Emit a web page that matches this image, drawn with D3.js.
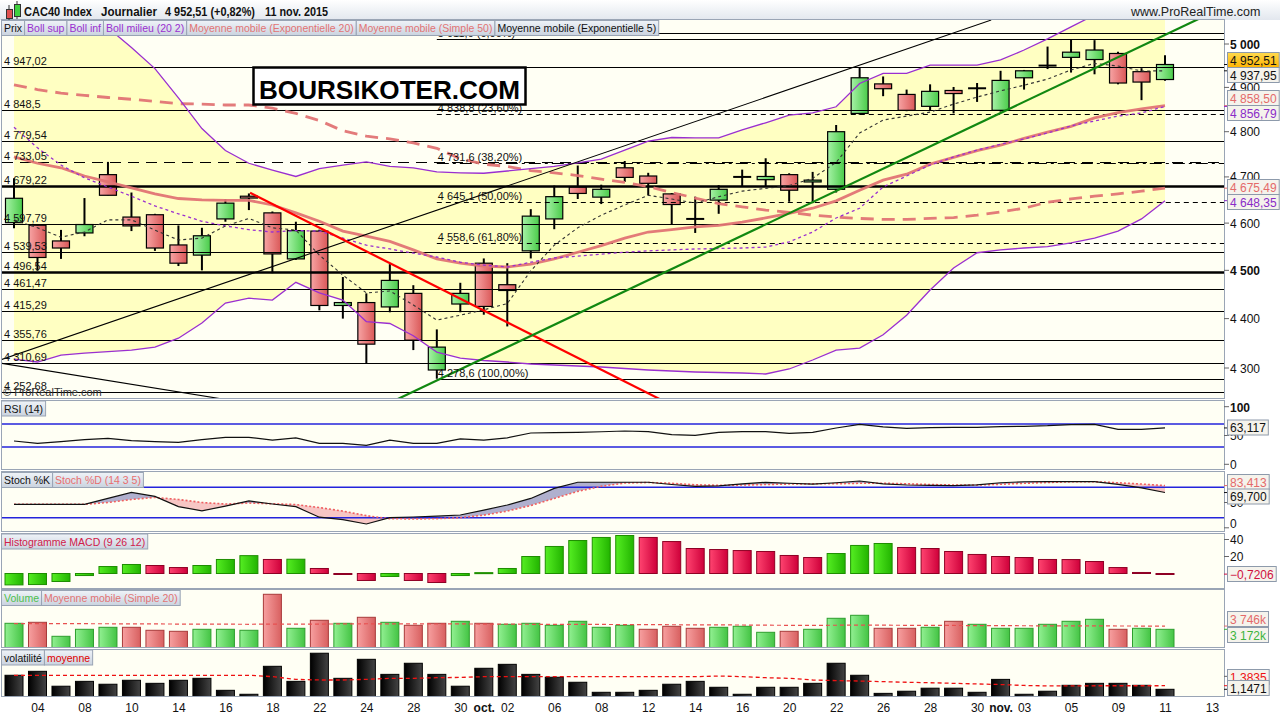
<!DOCTYPE html>
<html><head><meta charset="utf-8">
<script src="https://cdn.jsdelivr.net/npm/d3@7"></script>
<style>body{margin:0;background:#fff}svg{display:block;font-family:"Liberation Sans",Arial,sans-serif}</style>
</head><body><svg id="c" width="1280" height="720"></svg>
<script>
// ---------------- DATA ----------------
const dates = ["2015-09-03","2015-09-04","2015-09-07","2015-09-08","2015-09-09","2015-09-10","2015-09-11","2015-09-14","2015-09-15","2015-09-16","2015-09-17","2015-09-18","2015-09-21","2015-09-22","2015-09-23","2015-09-24","2015-09-25","2015-09-28","2015-09-29","2015-09-30","2015-10-01","2015-10-02","2015-10-05","2015-10-06","2015-10-07","2015-10-08","2015-10-09","2015-10-12","2015-10-13","2015-10-14","2015-10-15","2015-10-16","2015-10-19","2015-10-20","2015-10-21","2015-10-22","2015-10-23","2015-10-26","2015-10-27","2015-10-28","2015-10-29","2015-10-30","2015-11-02","2015-11-03","2015-11-04","2015-11-05","2015-11-06","2015-11-09","2015-11-10","2015-11-11"];
const open  = [4601,4595.5,4562,4579,4705,4613,4618,4553.5,4532,4609,4658,4622,4524,4583,4427,4433,4424,4452,4296,4430,4515,4470,4541,4609,4678,4656,4720,4702,4663,4609,4649.5,4700,4694,4705,4689,4673,4841,4908,4884,4857,4893,4898,4848,4922,4950,4969,4964,4978,4936,4918];
const high  = [4697,4597,4585.5,4654,4733,4666,4620,4595,4590,4652,4664,4625,4603,4586,4486,4452,4513,4469,4378,4474,4525,4515,4630,4681,4725,4683,4735,4709,4665,4657,4682,4716,4741,4708,4711,4815,4946,4925,4895,4907,4901,4910,4938,4940,4994,5011.6,5009,4982,4944,4974];
const low   = [4589,4499,4524,4572,4660,4583,4541,4509,4500,4603,4628,4494,4522,4417,4400,4310,4413,4336,4278.6,4413,4408,4384,4525,4587,4652,4641,4689,4660,4597,4579,4620,4679,4679,4646,4643,4666,4838,4880,4846,4848,4841,4867,4845,4895,4942,4934,4930,4907,4871,4915];
const close = [4653.5,4527,4547,4597,4660,4594,4547,4515,4573,4643,4654,4534.5,4584,4427,4433,4348,4479,4356,4342,4452,4425,4458,4615,4657,4664,4673,4699,4686,4640,4609,4673,4700,4701,4671,4693,4800,4922,4897,4848,4891,4886,4898,4916,4938,4950,4981,4986,4910,4912.2,4952.51];

const bollSup = [5302,5216,5126,5066,5038,4992,4943,4876,4807,4758,4730,4715,4701,4718,4726,4733,4723,4720,4711,4709,4708,4713,4718,4723,4731,4739,4759,4779,4787,4786,4786,4804,4820,4837,4842,4856,4909,4932,4932,4951,4951,4951,4963,4986,5012,5040,5068,5087,5075,5065];
const bollInf = [4318,4312,4326,4330,4333,4336,4342,4360,4391,4432,4442,4438,4475,4453,4438,4394,4390,4365,4332,4320,4315,4312,4308,4306,4304,4302,4299,4296,4294,4292,4291,4290,4288,4298,4316,4336,4340,4367,4407,4459,4505,4537,4543,4547,4550,4558,4568,4583,4609,4648.35];
const bollMid = [4810,4764,4726,4698,4678,4658,4637,4620,4604,4594,4586,4581,4584,4583,4568,4553,4545,4536,4528,4517,4511,4507,4517,4526,4530,4534,4538,4541,4543,4545,4546,4547,4549,4560,4581,4611,4632,4678,4702,4726,4744,4759,4772,4784,4797,4813,4824,4835,4842,4856.79];
const ema20 = [4744,4730,4720,4702,4689,4676,4663,4653,4650,4649,4649,4639,4622,4604,4583,4572,4561,4543,4524,4515,4509,4507,4513,4524,4538,4552,4568,4581,4586,4592,4595,4602,4611,4621,4632,4648,4671,4693,4706,4728,4743,4758,4770,4785,4799,4812,4831,4843,4851,4858.5];
const sma50 = [4906,4895,4887,4882,4877,4873,4868,4863,4862,4860,4860,4853,4841,4825,4802,4790,4784,4775,4763,4740,4728,4723,4714,4709,4703,4695,4688,4679,4666,4654,4642,4635,4628,4623,4617,4613,4610,4608,4608,4610,4612,4617,4624,4632,4645,4652,4658,4663,4669,4675.49];
const ema5  = [4607,4590,4570,4581,4607,4607,4585,4564,4568,4594,4610,4590,4585,4532,4490,4453,4457,4428,4397,4407,4418,4431,4499,4553,4590,4617,4639,4660,4652,4643,4657,4669,4675,4681,4697,4732,4797,4826,4835,4844,4862,4878,4892,4905,4919,4940,4955,4949,4937.5,4937.95];

const rsi    = [40.5,36.4,39.3,43,45,41,39.5,38.2,43,46.9,46.9,42,46,36.4,36.4,33,42,36.4,36.4,44,42,46,54.3,55,55.5,56.5,57.8,56.6,51.5,50.3,55.5,56.6,56.6,53.8,55.5,63,69.4,65,62.5,63.5,64,64.2,65.5,66,67,69,69.4,60.8,60.8,63.117];
const stochK = [46.4,46.4,46.4,46.4,58,70,62,42,33.5,43,53,47,41.7,21,16,7.5,20,21.3,23,25.3,35,45,58,78,90,90,90,90,85.6,82,83,87,89.9,88,86.5,89,92.5,87,84.6,84,83.2,85,89,91,91.1,91.1,91.1,86,79,69.7];
const stochD = [46.4,46.4,46.4,46.4,50,56,60,56,50,47,49,47.5,46,40,33,24,18,17.5,18,20,25,33,44,58,72,82,88.5,89.5,88,85,84,84.5,85.5,86.5,87,87,88,88,87,85.5,84.5,84.5,86,88,89.5,91,91,89,86.5,83.413];
const macdHist = [-13.4,-13,-9.4,-2.4,8.2,10.6,9.4,7,9.4,16.5,21,16.5,16.8,5.9,-0.4,-8.2,-3.5,-8.2,-10.6,-2.4,1,5.9,20,31.8,38.8,42.4,44.7,42.4,37.6,29.4,28.2,27,25.9,21.2,18.8,23.5,33,35.3,30.6,29.4,25.9,22.4,20,18.8,16.5,16.4,14.1,7,1.2,-0.7206];
const volume = [4234,4410,1940,3175,3528,3528,3000,2822,3175,3175,3000,9350,3352,4763,4234,5292,4410,3880,4234,4586,4234,4057,4234,3880,4586,3528,3880,3175,3704,3352,3528,3704,2646,2822,3175,5116,5645,3352,3352,3528,4586,4057,3352,3352,4057,4586,4939,3175,3352,3172];
const volumeSma20 = [4180,4180,4170,4160,4150,4140,4120,4100,4090,4080,4060,4100,4090,4100,4120,4150,4140,4120,4110,4120,4100,4080,4060,4050,4040,4030,4010,3990,3980,3960,3950,3930,3900,3880,3870,3890,3920,3900,3880,3860,3850,3830,3820,3800,3790,3780,3770,3760,3750,3746];
const volatility = [2.07,2.33,1.35,1.67,1.48,1.74,1.54,1.74,1.87,1.08,0.82,2.66,1.67,3.52,1.87,3.12,2.13,2.86,2.13,1.35,2.53,2.79,2.13,1.94,1.61,0.95,0.95,1.08,1.48,1.67,1.28,0.82,1.28,1.28,1.54,2.86,2.07,0.88,1.02,1.22,1.22,0.95,1.80,0.82,1.02,1.41,1.54,1.54,1.41,1.1471];
const volatilityMa = [2.07,2.07,2.07,2.07,2.07,2.07,2.07,2.07,2.07,2.07,2.07,1.98,1.80,1.76,1.76,1.80,1.87,1.87,1.91,1.93,1.98,1.98,1.98,1.98,1.98,1.98,1.98,1.98,1.98,1.98,2.02,1.98,1.91,1.87,1.76,1.72,1.69,1.65,1.61,1.58,1.54,1.50,1.46,1.40,1.37,1.37,1.38,1.38,1.38,1.3835];

// horizontal support / resistance levels (left labels)
const levelValues = [5026, 4947.02, 4848.5, 4779.54, 4733.05, 4679.22, 4597.79, 4539.53, 4496.54, 4461.47, 4415.29, 4355.76, 4310.69, 4252.68];
const levelLabels = ["", "4 947,02", "4 848,5", "4 779,54", "4 733,05", "4 679,22", "4 597,79", "4 539,53", "4 496,54", "4 461,47", "4 415,29", "4 355,76", "4 310,69", "4 252,68"];
// Fibonacci retracement from the 29 Sept low to the 5 Nov high
const fibValues = [5011.6, 4838.8, 4731.6, 4645.1, 4558.6, 4278.6];
const fibLabels = ["5 011,6 (0,00%)", "4 838,8 (23,60%)", "4 731,6 (38,20%)", "4 645,1 (50,00%)", "4 558,6 (61,80%)", "4 278,6 (100,00%)"];
const fibStartIndex = 18;
// trendlines: [index, price] pairs
const trendBlackUp   = [[-0.6, 4316], [41.6, 5056]];
const trendBlackDown = [[-0.6, 4310], [12, 4215]];
const trendRed       = [[10.05, 4665.5], [30, 4180]];
const trendGreen     = [[15.5, 4220], [52, 5100]];

const priceTicks = [4300, 4400, 4500, 4600, 4700, 4800, 4900, 5000];
const xTickIndex  = [1,3,5,7,9,11,13,15,17,19,20,21,23,25,27,29,31,33,35,37,39,41,42,43,45,47,49,51];
const xTickLabels = ["04","08","10","14","16","18","22","24","28","30","oct.","02","06","08","12","14","16","20","22","26","28","30","nov.","03","05","09","11","13"];

// ---------------- SETUP ----------------
const svg = d3.select("#c");
const defs = svg.append("defs");
const loc = d3.formatLocale({decimal: ",", thousands: " ", grouping: [3], currency: ["", ""]});
const f2 = loc.format(",.2f"), f3 = loc.format(",.3f"), f4 = loc.format(",.4f"), f0 = loc.format(",.0f");

function lg(id, stops, vertical) {
  const g = defs.append("linearGradient").attr("id", id).attr("x1", 0).attr("y1", 0)
    .attr("x2", vertical ? 0 : 1).attr("y2", vertical ? 1 : 0);
  stops.forEach((c, k) => g.append("stop").attr("offset", k / (stops.length - 1)).attr("stop-color", c));
}
lg("gCG", ["#A6F2A6", "#4ACB4A"]);
lg("gCR", ["#F7A4A4", "#DA5858"]);
lg("gMG", ["#55EE22", "#22B400"]);
lg("gMR", ["#FF4470", "#CE003A"]);
lg("gVG", ["#92F092", "#44C444"]);
lg("gVR", ["#F7A0A0", "#D86060"]);
lg("gVK", ["#000000", "#444444"]);
lg("gHdr", ["#FFFFFF", "#E2E7EE"], true);
lg("gLeg", ["#EFF3F8", "#CAD3DF"], true);
lg("gOr", ["#FFDA50", "#FFB400"], true);

const L = 2, R = 1224;
const P = {price: [20, 398], rsi: [401, 469], stoch: [472, 531], macd: [534, 588], vol: [590, 647], volat: [650, 696]};
const x = d3.scaleLinear().domain([0, 49]).range([14, 1165]);
const idx = d3.range(dates.length);

const yP = d3.scaleLog().domain([4300, 5000]).range([368, 44]);
const yR = d3.scaleLinear().domain([0, 100]).range([464.3, 406.7]);
const yS = d3.scaleLinear().domain([0, 100]).range([527.8, 477.2]);
const yM = d3.scaleLinear().domain([0, 40]).range([573.5, 539.5]);
const yV = d3.scaleLinear().domain([0, 10000]).range([647.3, 590.6]);
const yX = d3.scaleLinear().domain([0.7, 3.7]).range([696.1, 650.5]);

// background
svg.append("rect").attr("width", 1280).attr("height", 720).attr("fill", "#FFFFFF");
svg.append("rect").attr("x", 0).attr("y", 0).attr("width", 1280).attr("height", 20).attr("fill", "url(#gHdr)");

// panels + clips
Object.entries(P).forEach(([k, [t, b]]) => {
  defs.append("clipPath").attr("id", "clip_" + k).append("rect")
    .attr("x", L).attr("y", t).attr("width", R - L).attr("height", b - t);
  svg.append("rect").attr("x", L - 0.5).attr("y", t - 0.5).attr("width", R - L + 1).attr("height", b - t + 1)
    .attr("fill", "#FFFFF4").attr("stroke", "#9AA5B5");
});
const gp = k => svg.append("g").attr("clip-path", `url(#clip_${k})`);

// ---------------- PRICE PANEL ----------------
const pr = gp("price");
pr.append("path").datum(idx).attr("fill", "#FFFFC2")
  .attr("d", d3.area().x(i => x(i)).y0(i => yP(bollInf[i])).y1(i => yP(bollSup[i])));

// candles
const cg = pr.append("g");
idx.forEach(i => {
  const cx = x(i);
  cg.append("line").attr("x1", cx).attr("x2", cx).attr("y1", yP(high[i])).attr("y2", yP(low[i]))
    .attr("stroke", "#000").attr("stroke-width", 2);
  const yo = yP(open[i]), yc = yP(close[i]);
  const h = Math.abs(yo - yc);
  if (h < 1.5) {
    cg.append("line").attr("x1", cx - 9).attr("x2", cx + 9).attr("y1", (yo + yc) / 2).attr("y2", (yo + yc) / 2)
      .attr("stroke", "#000").attr("stroke-width", 2);
  } else {
    cg.append("rect").attr("x", cx - 8.5).attr("y", Math.min(yo, yc)).attr("width", 17).attr("height", h)
      .attr("fill", close[i] >= open[i] ? "url(#gCG)" : "url(#gCR)").attr("stroke", "#000").attr("stroke-width", 1.2);
  }
});

// horizontal levels
levelValues.forEach((v, k) => {
  const y = Math.round(yP(v)) + 0.5;
  const thick = (v === 4679.22 || v === 4496.54);
  const l = pr.append("line").attr("x1", L).attr("x2", R).attr("y1", y).attr("y2", y)
    .attr("stroke", "#000").attr("stroke-width", thick ? 2.4 : 1.1);
  if (v === 4733.05) l.attr("stroke-dasharray", "11,7");
});
fibValues.forEach((v, k) => {
  const y = Math.round(yP(v)) + 0.5;
  const l = pr.append("line").attr("x1", x(fibStartIndex)).attr("x2", R).attr("y1", y).attr("y2", y)
    .attr("stroke", "#000").attr("stroke-width", 1.1);
  if (k === 2) l.attr("stroke-dasharray", "12,4,3,4");
  else if (k > 0 && k < 5) l.attr("stroke-dasharray", "5,4");
});

// indicators
const ln = arr => d3.line().x(i => x(i)).y(i => yP(arr[i]));
pr.append("path").datum(idx).attr("d", ln(sma50)).attr("fill", "none").attr("stroke", "#E27474")
  .attr("stroke-width", 2.8).attr("stroke-dasharray", "13,8").attr("opacity", 0.95);
pr.append("path").datum(idx).attr("d", ln(ema20)).attr("fill", "none").attr("stroke", "#E27474")
  .attr("stroke-width", 2.8).attr("opacity", 0.95);
pr.append("path").datum(idx).attr("d", ln(bollSup)).attr("fill", "none").attr("stroke", "#9A2FD0").attr("stroke-width", 1.3);
pr.append("path").datum(idx).attr("d", ln(bollInf)).attr("fill", "none").attr("stroke", "#9A2FD0").attr("stroke-width", 1.3);
pr.append("path").datum(idx).attr("d", ln(bollMid)).attr("fill", "none").attr("stroke", "#9A2FD0")
  .attr("stroke-width", 1.3).attr("stroke-dasharray", "3,3");
pr.append("path").datum(idx).attr("d", ln(ema5)).attr("fill", "none").attr("stroke", "#333")
  .attr("stroke-width", 1.1).attr("stroke-dasharray", "3,3");

// trendlines
const tl = (pts, col, w) => pr.append("line")
  .attr("x1", x(pts[0][0])).attr("y1", yP(pts[0][1])).attr("x2", x(pts[1][0])).attr("y2", yP(pts[1][1]))
  .attr("stroke", col).attr("stroke-width", w);
tl(trendBlackUp, "#000", 1.1);
tl(trendBlackDown, "#000", 1.1);
tl(trendRed, "#FF0000", 2.2);
tl(trendGreen, "#118811", 2.2);

// left labels
levelValues.forEach((v, k) => {
  if (!levelLabels[k]) return;
  pr.append("text").attr("x", 4).attr("y", Math.round(yP(v)) - 2.5).text(levelLabels[k])
    .style("font-size", "11px").attr("fill", "#111");
});
fibValues.forEach((v, k) => {
  pr.append("text").attr("x", x(fibStartIndex) + 1).attr("y", Math.round(yP(v)) - 2.5).text(fibLabels[k])
    .style("font-size", "11px").attr("fill", "#111");
});
pr.append("text").attr("x", 3).attr("y", 396).text("© ProRealTime.com").style("font-size", "11px").attr("fill", "#333");

// watermark
svg.append("rect").attr("x", 253.5).attr("y", 67.5).attr("width", 272).attr("height", 37)
  .attr("fill", "#fff").attr("stroke", "#000").attr("stroke-width", 2.5);
svg.append("text").attr("x", 259).attr("y", 99).text("BOURSIKOTER.COM")
  .style("font-size", "26px").style("font-weight", "bold").attr("textLength", 261).attr("lengthAdjust", "spacingAndGlyphs");

// ---------------- RSI ----------------
const rg = gp("rsi");
[70, 30].forEach(v => rg.append("line").attr("x1", L).attr("x2", R).attr("y1", yR(v)).attr("y2", yR(v))
  .attr("stroke", "#2424DC").attr("stroke-width", 1.6));
rg.append("path").datum(idx).attr("fill", "none").attr("stroke", "#111").attr("stroke-width", 1.2)
  .attr("d", d3.line().x(i => x(i)).y(i => yR(rsi[i])));

// ---------------- STOCH ----------------
const sg = gp("stoch");
defs.append("clipPath").attr("id", "stAbove").append("path").datum(idx)
  .attr("d", d3.area().x(i => x(i)).y0(P.stoch[0]).y1(i => yS(stochD[i])));
defs.append("clipPath").attr("id", "stBelow").append("path").datum(idx)
  .attr("d", d3.area().x(i => x(i)).y0(i => yS(stochD[i])).y1(P.stoch[1]));
const kd = d3.area().x(i => x(i)).y0(i => yS(stochD[i])).y1(i => yS(stochK[i]));
sg.append("g").attr("clip-path", "url(#stAbove)").append("path").datum(idx).attr("d", kd).attr("fill", "#B0B0CE");
sg.append("g").attr("clip-path", "url(#stBelow)").append("path").datum(idx).attr("d", kd).attr("fill", "#F7C6C4");
[80, 20].forEach(v => sg.append("line").attr("x1", L).attr("x2", R).attr("y1", yS(v)).attr("y2", yS(v))
  .attr("stroke", "#2424DC").attr("stroke-width", 1.6));
sg.append("path").datum(idx).attr("fill", "none").attr("stroke", "#F06060").attr("stroke-width", 1.6)
  .attr("stroke-dasharray", "2,2").attr("d", d3.line().x(i => x(i)).y(i => yS(stochD[i])));
sg.append("path").datum(idx).attr("fill", "none").attr("stroke", "#111").attr("stroke-width", 1.2)
  .attr("d", d3.line().x(i => x(i)).y(i => yS(stochK[i])));

// ---------------- MACD ----------------
const mg = gp("macd");
const macdUp = i => i === 0 || macdHist[i] >= macdHist[i - 1];
mg.selectAll("rect").data(idx).join("rect")
  .attr("x", i => x(i) - 9).attr("width", 18)
  .attr("y", i => Math.min(yM(0), yM(macdHist[i]))).attr("height", i => Math.max(1, Math.abs(yM(macdHist[i]) - yM(0))))
  .attr("fill", i => macdUp(i) ? "url(#gMG)" : "url(#gMR)")
  .attr("stroke", i => macdUp(i) ? "#1E8E00" : "#8E0024").attr("stroke-width", 1);

// ---------------- VOLUME ----------------
const vg = gp("vol");
const upDay = i => i === 0 ? close[i] >= open[i] : close[i] >= close[i - 1];
vg.selectAll("rect").data(idx).join("rect")
  .attr("x", i => x(i) - 9).attr("width", 18)
  .attr("y", i => yV(volume[i])).attr("height", i => yV(0) - yV(volume[i]) + 2)
  .attr("fill", i => upDay(i) ? "url(#gVG)" : "url(#gVR)")
  .attr("stroke", i => upDay(i) ? "#2E9E2E" : "#A83A3A").attr("stroke-width", 1);
vg.append("path").datum(idx).attr("fill", "none").attr("stroke", "#E85050").attr("stroke-width", 1.2)
  .attr("stroke-dasharray", "4,3").attr("d", d3.line().x(i => x(i)).y(i => yV(volumeSma20[i])));

// ---------------- VOLATILITY ----------------
const xg = gp("volat");
xg.selectAll("rect").data(idx).join("rect")
  .attr("x", i => x(i) - 9).attr("width", 18)
  .attr("y", i => yX(volatility[i])).attr("height", i => P.volat[1] - yX(volatility[i]) + 2)
  .attr("fill", "url(#gVK)").attr("stroke", "#000").attr("stroke-width", 1);
xg.append("path").datum(idx).attr("fill", "none").attr("stroke", "#EE1111").attr("stroke-width", 1.3)
  .attr("stroke-dasharray", "4,3").attr("d", d3.line().x(i => x(i)).y(i => yX(volatilityMa[i])));

// ---------------- X AXIS ----------------
const xa = svg.append("g").attr("transform", `translate(0,${P.volat[1]})`)
  .call(d3.axisBottom(x).tickValues(xTickIndex).tickSize(0).tickPadding(0)
    .tickFormat((d, k) => xTickLabels[k]));
xa.select(".domain").remove();
xa.selectAll("text").attr("y", 16).attr("dy", 0).style("font-size", "12px").attr("fill", "#111")
  .style("font-family", '"Liberation Sans",Arial,sans-serif')
  .style("font-weight", (d, k) => /\./.test(xTickLabels[k]) ? "bold" : "normal");

// ---------------- RIGHT AXES ----------------
const ra = svg.append("g");
function tick(y, col) { ra.append("line").attr("x1", R).attr("x2", R + 5).attr("y1", y).attr("y2", y).attr("stroke", col || "#666"); }
function tlabel(y, t, bold) {
  ra.append("text").attr("x", 1230).attr("y", y + 4.5).text(t).style("font-size", "12px")
    .style("font-weight", bold ? "bold" : "normal").attr("fill", "#111");
}
priceTicks.forEach(v => { tick(yP(v)); tlabel(yP(v), f0(v), v === 5000 || v === 4500); });
[0, 50, 100].forEach(v => { tick(yR(v)); tlabel(Math.max(P.rsi[0] + 6, yR(v)), f0(v), v === 100); });
[0, 50].forEach(v => { tick(yS(v)); tlabel(Math.min(P.stoch[1] - 8, yS(v)), f0(v)); });
[20, 40].forEach(v => { tick(yM(v)); tlabel(yM(v), f0(v)); });
tick(yX(2));

function vbox(cy, txt, col, fill, tickY, tickCol) {
  if (tickY !== undefined) tick(tickY, tickCol || col);
  const g = ra.append("g");
  const r = g.append("rect").attr("x", 1227.5).attr("y", cy - 7.5).attr("height", 15)
    .attr("fill", fill || "#F5F3EC").attr("stroke", "#8D9AAB");
  const t = g.append("text").attr("x", 1230).attr("y", cy + 4.5).text(txt).style("font-size", "12px").attr("fill", col);
  r.attr("width", t.node().getComputedTextLength() + 5);
}
const last = a => a[a.length - 1];
vbox(60, f2(last(close)), "#111", "url(#gOr)", yP(last(close)), "#111");
vbox(75, f2(last(ema5)), "#111", null, yP(last(ema5)), "#111");
vbox(98, f2(last(ema20)), "#E46A6A", null, yP(last(ema20)));
vbox(113, f2(last(bollMid)), "#8A2BC8", null, yP(last(bollMid)));
vbox(187, f2(last(sma50)), "#E46A6A", null, yP(last(sma50)));
vbox(202, f2(last(bollInf)), "#8A2BC8", null, yP(last(bollInf)));
vbox(427.5, f3(last(rsi)), "#111", null, yR(last(rsi)));
vbox(482, f3(last(stochD)), "#E46A6A", null, yS(last(stochD)));
vbox(496.5, f3(last(stochK)), "#111", null, yS(last(stochK)));
vbox(574, f4(last(macdHist)), "#D0103E", null, yM(last(macdHist)));
vbox(619, f0(last(volumeSma20)) + "k", "#E46A6A", null, yV(last(volumeSma20)));
vbox(635, f0(last(volume)) + "k", "#3CB43C", null, yV(last(volume)));
vbox(677, f4(last(volatilityMa)), "#EE1111", null, yX(last(volatilityMa)));
vbox(688, f4(last(volatility)), "#111", null, yX(last(volatility)));

// ---------------- LEGENDS / TITLES ----------------
function legendRow(y, items) {
  let xx = 1.5;
  items.forEach(([txt, col]) => {
    const g = svg.append("g");
    const r = g.append("rect").attr("x", xx).attr("y", y).attr("height", 15).attr("fill", "url(#gLeg)").attr("stroke", "#99A4B4");
    const t = g.append("text").attr("x", xx + 2.5).attr("y", y + 11.5).text(txt).style("font-size", "10.5px").attr("fill", col);
    const w = t.node().getComputedTextLength() + 5;
    r.attr("width", w);
    xx += w;
  });
}
legendRow(20.5, [["Prix", "#111"], ["Boll sup", "#9A2FD0"], ["Boll inf", "#9A2FD0"], ["Boll milieu (20 2)", "#9A2FD0"],
  ["Moyenne mobile (Exponentielle 20)", "#E27474"], ["Moyenne mobile (Simple 50)", "#E27474"], ["Moyenne mobile (Exponentielle 5)", "#111"]]);
legendRow(401, [["RSI (14)", "#111"]]);
legendRow(472.5, [["Stoch %K", "#111"], ["Stoch %D (14 3 5)", "#E86E6E"]]);
legendRow(534, [["Histogramme MACD (9 26 12)", "#D0204A"]]);
legendRow(590.5, [["Volume", "#4CC04C"], ["Moyenne mobile (Simple 20)", "#E27474"]]);
legendRow(650, [["volatilité", "#111"], ["moyenne", "#E00000"]]);

// ---------------- HEADER ----------------
const hd = svg.append("g");
hd.append("line").attr("x1", 9).attr("x2", 9).attr("y1", 5).attr("y2", 20).attr("stroke", "#333");
hd.append("rect").attr("x", 6.5).attr("y", 9.5).attr("width", 6).attr("height", 9).attr("fill", "#E05050").attr("stroke", "#333");
hd.append("line").attr("x1", 17).attr("x2", 17).attr("y1", 1).attr("y2", 19).attr("stroke", "#333");
hd.append("rect").attr("x", 14.5).attr("y", 4.5).attr("width", 6).attr("height", 12).attr("fill", "#40D040").attr("stroke", "#333");
[["CAC40 Index", 24, 68], ["Journalier", 101, 56], ["4 952,51 (+0,82%)", 165, 90], ["11 nov. 2015", 265, 63]].forEach(([t, xx, w]) =>
  hd.append("text").attr("x", xx).attr("y", 15.5).text(t).style("font-size", "12px").style("font-weight", "bold")
    .attr("textLength", w).attr("lengthAdjust", "spacingAndGlyphs").attr("fill", "#111"));
hd.append("text").attr("x", 1131).attr("y", 15.5).text("www.ProRealTime.com").style("font-size", "12.5px").attr("fill", "#222");
</script></body></html>
